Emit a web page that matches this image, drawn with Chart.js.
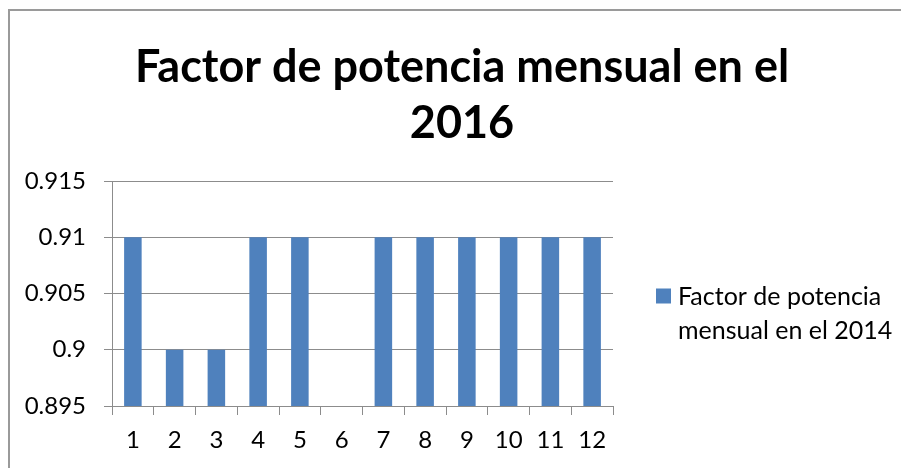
<!DOCTYPE html>
<html lang="es">
<head>
    <meta charset="UTF-8">
    <title>Factor de potencia mensual</title>
    <script src="https://cdn.jsdelivr.net/npm/chart.js"></script>
    <style>
        body {
            margin: 0;
            padding: 0;
            background: #ffffff;
        }
        #wrap {
            width: 901px;
            height: 468px;
        }
    </style>
</head>
<body>
    <div id="wrap"><canvas id="chart" width="901" height="468"></canvas></div>

    <script>
        // data
        const months = ['1', '2', '3', '4', '5', '6', '7', '8', '9', '10', '11', '12'];
        const powerFactor = [0.91, 0.90, 0.90, 0.91, 0.91, 0.895, 0.91, 0.91, 0.91, 0.91, 0.91, 0.91];
        const seriesName = ['Factor de potencia', 'mensual en el 2014'];
        const chartTitle = ['Factor de potencia mensual en el', '2016'];

        const FONT = 'Lato, "Open Sans", sans-serif';
        const GRID = '#8c8c8c';
        const BAR = '#4f81bd';

        // outer frame like the spreadsheet chart box
        const framePlugin = {
            id: 'frame',
            afterDraw(chart) {
                const ctx = chart.ctx;
                ctx.save();
                ctx.strokeStyle = '#9a9a9a';
                ctx.lineWidth = 2;
                ctx.beginPath();
                ctx.moveTo(9, chart.height);
                ctx.lineTo(9, 10);
                ctx.lineTo(chart.width, 10);
                ctx.stroke();
                ctx.restore();
            }
        };

        // title centred on the whole box, not only the plot
        const boxTitle = {
            id: 'boxTitle',
            afterDraw(chart) {
                const ctx = chart.ctx;
                ctx.save();
                ctx.fillStyle = '#000';
                ctx.font = 'bold 45px ' + FONT;
                ctx.textAlign = 'center';
                ctx.textBaseline = 'middle';
                chartTitle.forEach((line, i) => {
                    ctx.fillText(line, 462, 67 + i * 56);
                });
                ctx.restore();
            }
        };

        // legend on the right, wrapped over two lines
        const sideLegend = {
            id: 'sideLegend',
            afterDraw(chart) {
                const ctx = chart.ctx;
                const area = chart.chartArea;
                const x = area.right + 43;
                const y = (area.top + area.bottom) / 2 + 3;
                ctx.save();
                ctx.fillStyle = BAR;
                ctx.fillRect(x, y - 8, 15, 15);
                ctx.fillStyle = '#000';
                ctx.font = '25px ' + FONT;
                ctx.textBaseline = 'middle';
                ctx.textAlign = 'left';
                seriesName.forEach((line, i) => {
                    ctx.fillText(line, x + 22, y + i * 34);
                });
                ctx.restore();
            }
        };

        new Chart(document.getElementById('chart'), {
            type: 'bar',
            data: {
                labels: months,
                datasets: [{
                    label: seriesName.join(' '),
                    data: powerFactor,
                    backgroundColor: BAR,
                    borderWidth: 0,
                    categoryPercentage: 1,
                    barPercentage: 0.42
                }]
            },
            options: {
                responsive: false,
                animation: false,
                layout: { padding: { left: 0, right: 288, top: 181, bottom: 0 } },
                plugins: {
                    legend: { display: false },
                    tooltip: { enabled: false },
                    title: { display: false }
                },
                scales: {
                    x: {
                        offset: true,
                        grid: {
                            offset: true,
                            drawOnChartArea: false,
                            drawTicks: true,
                            tickLength: 9,
                            color: GRID
                        },
                        border: { color: GRID, width: 1 },
                        ticks: { color: '#000', font: { family: FONT, size: 24 }, padding: 11 },
                        afterFit(scale) { scale.height = 62; }
                    },
                    y: {
                        min: 0.895,
                        max: 0.915,
                        ticks: {
                            stepSize: 0.005,
                            color: '#000',
                            font: { family: FONT, size: 24 },
                            padding: 18,
                            callback: v => String(parseFloat(v.toFixed(3)))
                        },
                        grid: { color: GRID, tickLength: 8 },
                        border: { color: GRID, width: 1 },
                        afterFit(scale) { scale.width = 112; }
                    }
                }
            },
            plugins: [framePlugin, boxTitle, sideLegend]
        });
    </script>
</body>
</html>
